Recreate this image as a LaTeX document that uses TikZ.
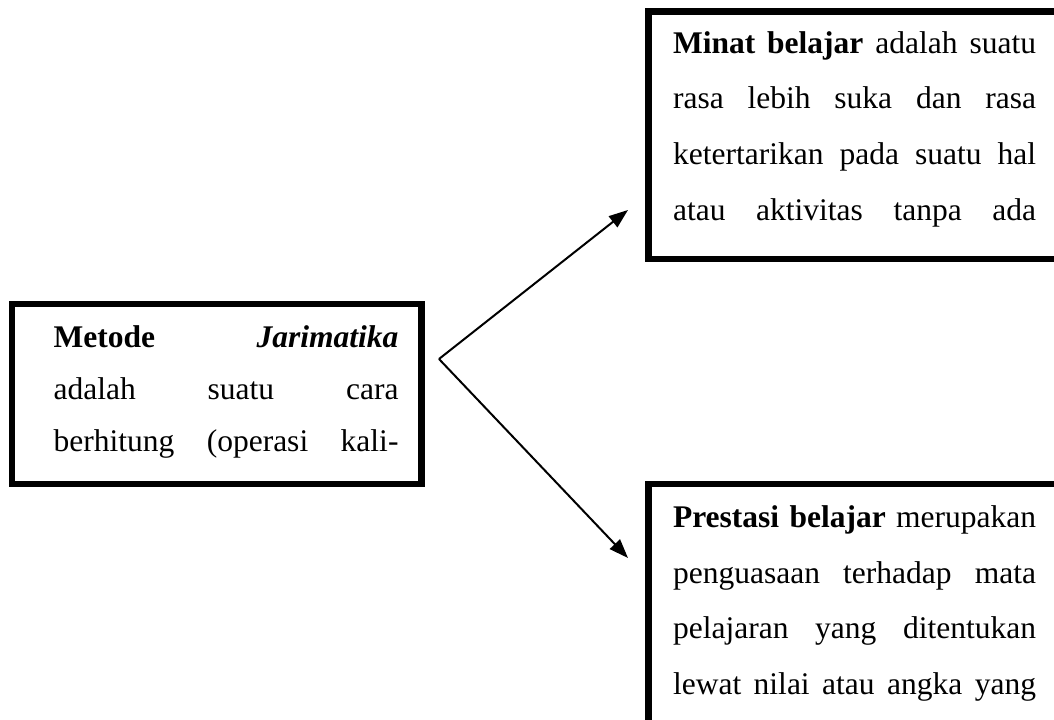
\documentclass[tikz,border=0pt]{standalone}
\usepackage{fontspec}
\setmainfont{Liberation Serif}
\usetikzlibrary{arrows.meta}

\newcommand{\spreadline}[1]{\makebox[\hsize][s]{\spaceskip=0pt\xspaceskip=0pt #1}}

\begin{document}
\begin{tikzpicture}[
  x=0.376pt,
  y=-0.376pt,
  line join=miter,
  frame/.style={draw=black,line width=2.6pt},
  leader/.style={draw=black,line width=0.75pt,-{Triangle[length=7.2pt,width=5.2pt]}},
  boxtext/.style={anchor=base west,inner sep=0pt,text width=136.5pt,align=left,font=\fontsize{11.85}{20.9}\selectfont},
  metodetext/.style={anchor=base west,inner sep=0pt,text width=129.7pt,align=left,font=\fontsize{11.85}{19.6}\selectfont}
]
  % Keep the page at the size of the original artwork; the right frames run off it.
  \clip (0,0) rectangle (1054,720);

  % Frame corners and the fork where both arrows start.
  \coordinate (metodeNW) at (12,304);
  \coordinate (metodeSE) at (421.5,484);
  \coordinate (minatNW) at (648.5,11.5);
  \coordinate (minatSE) at (1058.5,259);
  \coordinate (prestasiNW) at (648.5,484);
  \coordinate (prestasiSE) at (1058.5,726);
  \coordinate (fork) at (439,359);
  \coordinate (minatTip) at (628,210);
  \coordinate (prestasiTip) at (628,558);

  % Thick frames.
  \draw[frame] (metodeNW) rectangle (metodeSE);
  \draw[frame] (minatNW) rectangle (minatSE);
  \draw[frame] (prestasiNW) rectangle (prestasiSE);

  % Justified texts, every visible line filled to the full width.
  \node[metodetext] (metode) at (53,347.7)
    {\spreadline{\textbf{Metode} \textbf{\textit{Jarimatika}}}\\
     \spreadline{adalah suatu cara}\\
     \spreadline{berhitung (operasi kali-}};
  \node[boxtext] (minat) at (672.5,53.3)
    {\spreadline{\textbf{Minat belajar} adalah suatu}\\
     \spreadline{rasa lebih suka dan rasa}\\
     \spreadline{ketertarikan pada suatu hal}\\
     \spreadline{atau aktivitas tanpa ada}};
  \node[boxtext] (prestasi) at (672.5,527.7)
    {\spreadline{\textbf{Prestasi belajar} merupakan}\\
     \spreadline{penguasaan terhadap mata}\\
     \spreadline{pelajaran yang ditentukan}\\
     \spreadline{lewat nilai atau angka yang}};

  % Arrows from the fork to both result boxes.
  \draw[leader] (fork) -- (minatTip);
  \draw[leader] (fork) -- (prestasiTip);
\end{tikzpicture}
\end{document}
